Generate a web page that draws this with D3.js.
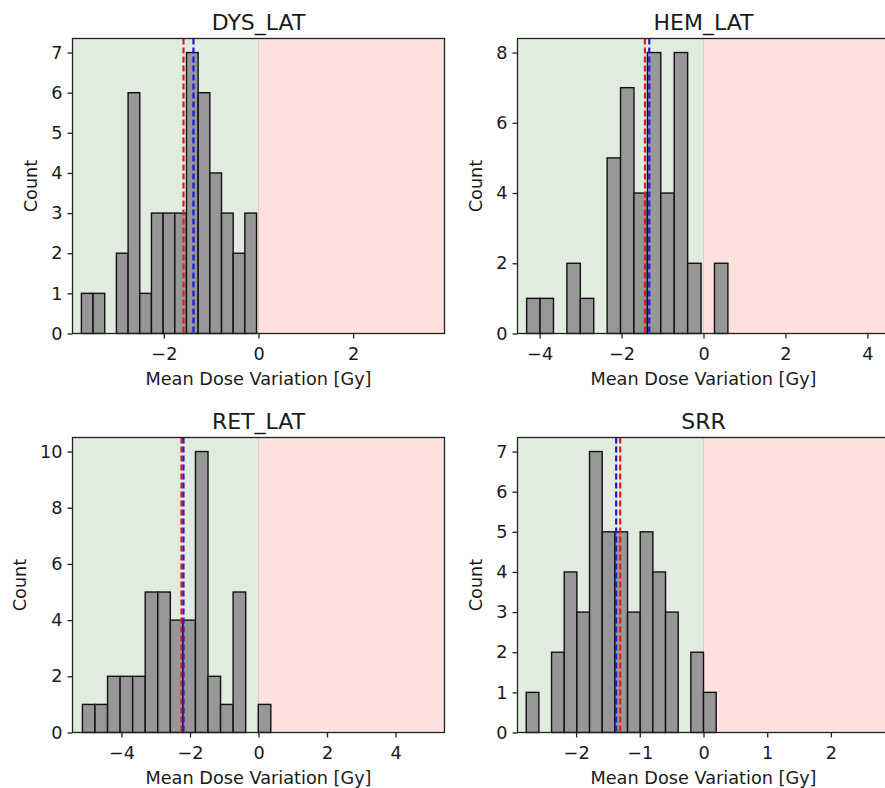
<!DOCTYPE html>
<html><head><meta charset="utf-8">
<script src="https://cdn.jsdelivr.net/npm/d3@7"></script>
<style>body{margin:0;background:#fff}svg{display:block;font-family:"DejaVu Sans",sans-serif}</style>
</head><body><svg id="c" width="885" height="788"></svg>
<script>
// ---- data ----
const titles = ["DYS_LAT", "HEM_LAT", "RET_LAT", "SRR"];
const binStart = [-3.742, -4.317, -5.14, -2.783];
const binWidth = [0.2467, 0.3275, 0.3666, 0.1988];
const countsDYS = [1, 1, 0, 2, 6, 1, 3, 3, 3, 7, 6, 4, 3, 2, 3];
const countsHEM = [1, 1, 0, 2, 1, 0, 5, 7, 4, 8, 4, 8, 2, 0, 2];
const countsRET = [1, 1, 2, 2, 2, 5, 5, 4, 4, 10, 2, 1, 5, 0, 1];
const countsSRR = [1, 0, 2, 4, 3, 7, 5, 5, 3, 5, 4, 3, 0, 2, 1];
const redLine = [-1.585, -1.43, -2.248, -1.308];
const blueLine = [-1.374, -1.324, -2.19, -1.371];
const xLimit = [3.93, 4.54, 5.43, 2.92];
const xTicks = [[-2, 0, 2], [-4, -2, 0, 2, 4], [-4, -2, 0, 2, 4], [-2, -1, 0, 1, 2]];
const yTicks = [[0,1,2,3,4,5,6,7], [0,2,4,6,8], [0,2,4,6,8,10], [0,1,2,3,4,5,6,7]];
const xLabel = "Mean Dose Variation [Gy]";
const yLabel = "Count";

const allCounts = [countsDYS, countsHEM, countsRET, countsSRR];

// ---- layout ----
const svg = d3.select("#c");
const W = 372, H = 295;
const lefts = [72.5, 517.5, 72.5, 517.5];
const tops = [38.5, 38.5, 437.5, 437.5];
const FS = 17.7, TFS = 22;
const ink = "#1a1a1a";
const fmt = d => d < 0 ? "\u2212" + Math.abs(d) : String(d);

titles.forEach((title, i) => {
  const counts = allCounts[i];
  const g = svg.append("g").attr("transform", `translate(${lefts[i]},${tops[i]})`);
  const x = d3.scaleLinear().domain([-xLimit[i], xLimit[i]]).range([0, W]);
  const ymax = d3.max(counts) * 1.05;
  const y = d3.scaleLinear().domain([0, ymax]).range([H, 0]);

  // background spans
  g.append("rect").attr("x", x(-xLimit[i])).attr("y", 0)
    .attr("width", x(0) - x(-xLimit[i])).attr("height", H).attr("fill", "#e1ebdf");
  g.append("rect").attr("x", x(0)).attr("y", 0)
    .attr("width", x(xLimit[i]) - x(0)).attr("height", H).attr("fill", "#fde1de");
  g.append("line").attr("x1", x(0)).attr("x2", x(0)).attr("y1", 0).attr("y2", H)
    .attr("stroke", "#e6c9b8").attr("stroke-width", 1);

  // bars
  const bins = counts.map((c, k) => ({c, x0: binStart[i] + k * binWidth[i], x1: binStart[i] + (k + 1) * binWidth[i]}))
    .filter(b => b.c > 0);
  g.selectAll("rect.bar").data(bins).enter().append("rect").attr("class", "bar")
    .attr("x", d => x(d.x0)).attr("width", d => x(d.x1) - x(d.x0))
    .attr("y", d => y(d.c)).attr("height", d => y(0) - y(d.c))
    .attr("fill", "#979797").attr("stroke", "#111").attr("stroke-width", 1.4);

  // reference lines
  [[redLine[i], "#e8191c"], [blueLine[i], "#1a1ae0"]].forEach(([v, col]) => {
    g.append("line").attr("x1", x(v)).attr("x2", x(v)).attr("y1", 0).attr("y2", H)
      .attr("stroke", col).attr("stroke-width", 2.2).attr("stroke-dasharray", "6,3");
  });

  // frame
  g.append("rect").attr("x", 0).attr("y", 0).attr("width", W).attr("height", H)
    .attr("fill", "none").attr("stroke", "#222").attr("stroke-width", 1.3);

  // axes
  const xa = g.append("g").attr("transform", `translate(0,${H})`)
    .call(d3.axisBottom(x).tickValues(xTicks[i]).tickSize(5).tickPadding(9.4).tickFormat(fmt));
  const ya = g.append("g")
    .call(d3.axisLeft(y).tickValues(yTicks[i]).tickSize(5).tickPadding(5).tickFormat(fmt));
  [xa, ya].forEach(a => {
    a.select(".domain").remove();
    a.selectAll("line").attr("stroke", "#222").attr("stroke-width", 1.3);
    a.selectAll("text").attr("fill", ink).style("font-size", FS + "px")
      .style("font-family", '"DejaVu Sans", sans-serif');
  });
  let maxW = 0;
  ya.selectAll("text").each(function () { maxW = Math.max(maxW, this.getComputedTextLength()); });

  // labels
  g.append("text").attr("x", W / 2).attr("y", H + 51).attr("text-anchor", "middle")
    .attr("fill", ink).style("font-size", FS + "px").text(xLabel);
  g.append("text").attr("transform", `translate(${-10.5 - maxW - 20},${H / 2}) rotate(-90)`)
    .attr("text-anchor", "middle").attr("dy", "0.35em")
    .attr("fill", ink).style("font-size", FS + "px").text(yLabel);
  g.append("text").attr("x", W / 2).attr("y", -9).attr("text-anchor", "middle")
    .attr("fill", ink).style("font-size", TFS + "px").text(title);
});
</script></body></html>
